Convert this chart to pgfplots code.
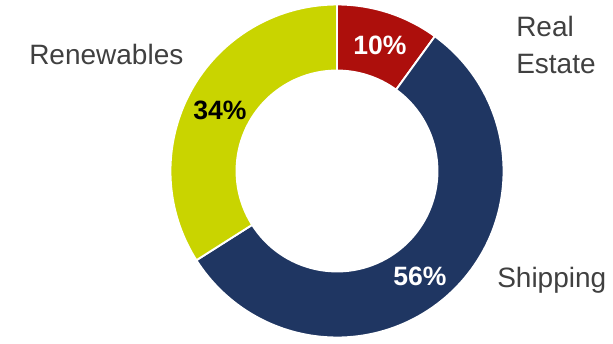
\documentclass[border=0pt]{standalone}
\usepackage{pgfplots}
\pgfplotsset{compat=1.18}
\usepackage{pgfplotstable}
\usepackage{fontspec}
\setmainfont{Liberation Sans}
\definecolor{cRE}{HTML}{AD0F0C}
\definecolor{cSh}{HTML}{1F3662}
\definecolor{cRn}{HTML}{C9D400}
\definecolor{txt}{HTML}{404040}

\pgfplotstableread{
name share color
RealEstate 10 cRE
Shipping 56 cSh
Renewables 34 cRn
}\donutdata

\newcommand{\lab}{\fontsize{21}{27.5}\selectfont}
\newcommand{\pct}{\fontsize{19.9}{24}\selectfont\bfseries}

\begin{document}
\begin{tikzpicture}
\begin{axis}[
  width=459.75pt, height=253.5pt, scale only axis,
  xmin=0, xmax=613, ymin=0, ymax=338,
  hide axis, clip=false,
]
\path (axis cs:0,0) rectangle (axis cs:613,338);
\def\cum{0}
\pgfplotsforeachungrouped \i in {0,1,2}{%
  \pgfplotstablegetelem{\i}{share}\of\donutdata \let\s\pgfplotsretval
  \pgfplotstablegetelem{\i}{color}\of\donutdata \let\c\pgfplotsretval
  \pgfmathsetmacro\aStart{90-3.6*\cum}%
  \pgfmathsetmacro\aEnd{90-3.6*(\cum+\s)}%
  \edef\cmd{\noexpand\fill[\c, draw=white, line width=1.4pt]
    (axis cs:{337+166.5*cos(\aStart)},{167+166.5*sin(\aStart)})
    arc[start angle=\aStart, end angle=\aEnd, radius=124.875pt]
    -- (axis cs:{337+100.5*cos(\aEnd)},{167+100.5*sin(\aEnd)})
    arc[start angle=\aEnd, end angle=\aStart, radius=75.375pt] -- cycle;}%
  \cmd
  \pgfmathsetmacro\cum{\cum+\s}%
}
\node[anchor=base west, inner sep=0pt, text=txt] at (axis cs:29,273.7) {\lab Renewables};
\node[anchor=base west, inner sep=0pt, text=txt] at (axis cs:516,301.3) {\lab Real};
\node[anchor=base west, inner sep=0pt, text=txt] at (axis cs:516,264.7) {\lab Estate};
\node[anchor=base west, inner sep=0pt, text=txt] at (axis cs:497,50.3) {\lab Shipping};
\node[anchor=base west, inner sep=0pt, text=black] at (axis cs:193,218.7) {\pct 34\%};
\node[anchor=base west, inner sep=0pt, text=white] at (axis cs:393,53) {\pct 56\%};
\node[anchor=base west, inner sep=0pt, text=white] at (axis cs:353,283.7) {\pct 10\%};
\end{axis}
\end{tikzpicture}
\end{document}
